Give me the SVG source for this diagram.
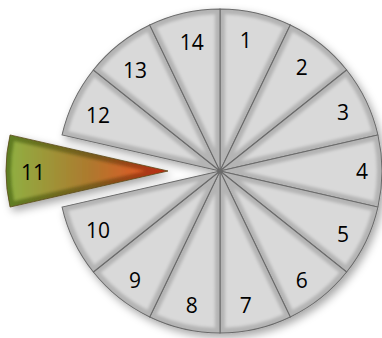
<svg xmlns="http://www.w3.org/2000/svg" xmlns:xlink="http://www.w3.org/1999/xlink" width="382" height="338" viewBox="0 0 382 338">
<style>
.lbl{font-family:"Open Sans","Liberation Sans",sans-serif;font-size:21px;fill:#000;text-anchor:middle}
.base{fill:#b4b4b4;stroke:#6a6a6a;stroke-width:1}
.face{fill:#d9d9d9}
</style>
<defs>
<path id="wedge" d="M0,0 L-36.05,-157.94 A162,162 0 0 1 36.05,-157.94 Z"/>
<path id="inset" d="M0,-22.47 L-30.04,-154.10 A157,157 0 0 1 30.04,-154.10 Z"/>
<filter id="shadow" x="-20%" y="-20%" width="140%" height="140%">
<feDropShadow dx="3" dy="4" stdDeviation="4" flood-color="#000" flood-opacity="0.35"/>
</filter>
<filter id="soft" x="-20%" y="-20%" width="140%" height="140%">
<feGaussianBlur stdDeviation="1.8"/>
</filter>
<linearGradient id="g11base" gradientUnits="userSpaceOnUse" x1="0" y1="-160" x2="0" y2="0">
<stop offset="0" stop-color="#5f7d22"/>
<stop offset="0.55" stop-color="#7a5a1c"/>
<stop offset="1" stop-color="#c02a10"/>
</linearGradient>
<linearGradient id="g11face" gradientUnits="userSpaceOnUse" x1="0" y1="-160" x2="0" y2="0">
<stop offset="0" stop-color="#8fb042"/>
<stop offset="0.5" stop-color="#ac7a2e"/>
<stop offset="1" stop-color="#f54a22"/>
</linearGradient>
</defs>
<g id="pie" filter="url(#shadow)">
<g id="slice1" transform="translate(220,171) rotate(12.857)"><use href="#wedge" class="base"/><use href="#inset" class="face" filter="url(#soft)"/></g>
<g id="slice2" transform="translate(220,171) rotate(38.571)"><use href="#wedge" class="base"/><use href="#inset" class="face" filter="url(#soft)"/></g>
<g id="slice3" transform="translate(220,171) rotate(64.286)"><use href="#wedge" class="base"/><use href="#inset" class="face" filter="url(#soft)"/></g>
<g id="slice4" transform="translate(220,171) rotate(90)"><use href="#wedge" class="base"/><use href="#inset" class="face" filter="url(#soft)"/></g>
<g id="slice5" transform="translate(220,171) rotate(115.714)"><use href="#wedge" class="base"/><use href="#inset" class="face" filter="url(#soft)"/></g>
<g id="slice6" transform="translate(220,171) rotate(141.429)"><use href="#wedge" class="base"/><use href="#inset" class="face" filter="url(#soft)"/></g>
<g id="slice7" transform="translate(220,171) rotate(167.143)"><use href="#wedge" class="base"/><use href="#inset" class="face" filter="url(#soft)"/></g>
<g id="slice8" transform="translate(220,171) rotate(192.857)"><use href="#wedge" class="base"/><use href="#inset" class="face" filter="url(#soft)"/></g>
<g id="slice9" transform="translate(220,171) rotate(218.571)"><use href="#wedge" class="base"/><use href="#inset" class="face" filter="url(#soft)"/></g>
<g id="slice10" transform="translate(220,171) rotate(244.286)"><use href="#wedge" class="base"/><use href="#inset" class="face" filter="url(#soft)"/></g>
<g id="slice12" transform="translate(220,171) rotate(295.714)"><use href="#wedge" class="base"/><use href="#inset" class="face" filter="url(#soft)"/></g>
<g id="slice13" transform="translate(220,171) rotate(321.429)"><use href="#wedge" class="base"/><use href="#inset" class="face" filter="url(#soft)"/></g>
<g id="slice14" transform="translate(220,171) rotate(347.143)"><use href="#wedge" class="base"/><use href="#inset" class="face" filter="url(#soft)"/></g>
<g id="slice11" transform="translate(168,171) rotate(270)"><use href="#wedge" fill="url(#g11base)" stroke="#5a4a1a" stroke-width="0.8"/><use href="#inset" fill="url(#g11face)" filter="url(#soft)"/></g>
</g>
<g id="labels">
<text class="lbl" x="245.7" y="48">1</text>
<text class="lbl" x="301.7" y="75">2</text>
<text class="lbl" x="343" y="120">3</text>
<text class="lbl" x="362" y="179">4</text>
<text class="lbl" x="343" y="242">5</text>
<text class="lbl" x="301.7" y="288">6</text>
<text class="lbl" x="245.7" y="313">7</text>
<text class="lbl" x="191.7" y="313">8</text>
<text class="lbl" x="135" y="288">9</text>
<text class="lbl" x="98" y="238">10</text>
<text class="lbl" x="33" y="180">11</text>
<text class="lbl" x="98" y="123">12</text>
<text class="lbl" x="135" y="78">13</text>
<text class="lbl" x="191.7" y="50">14</text>
</g>
</svg>
